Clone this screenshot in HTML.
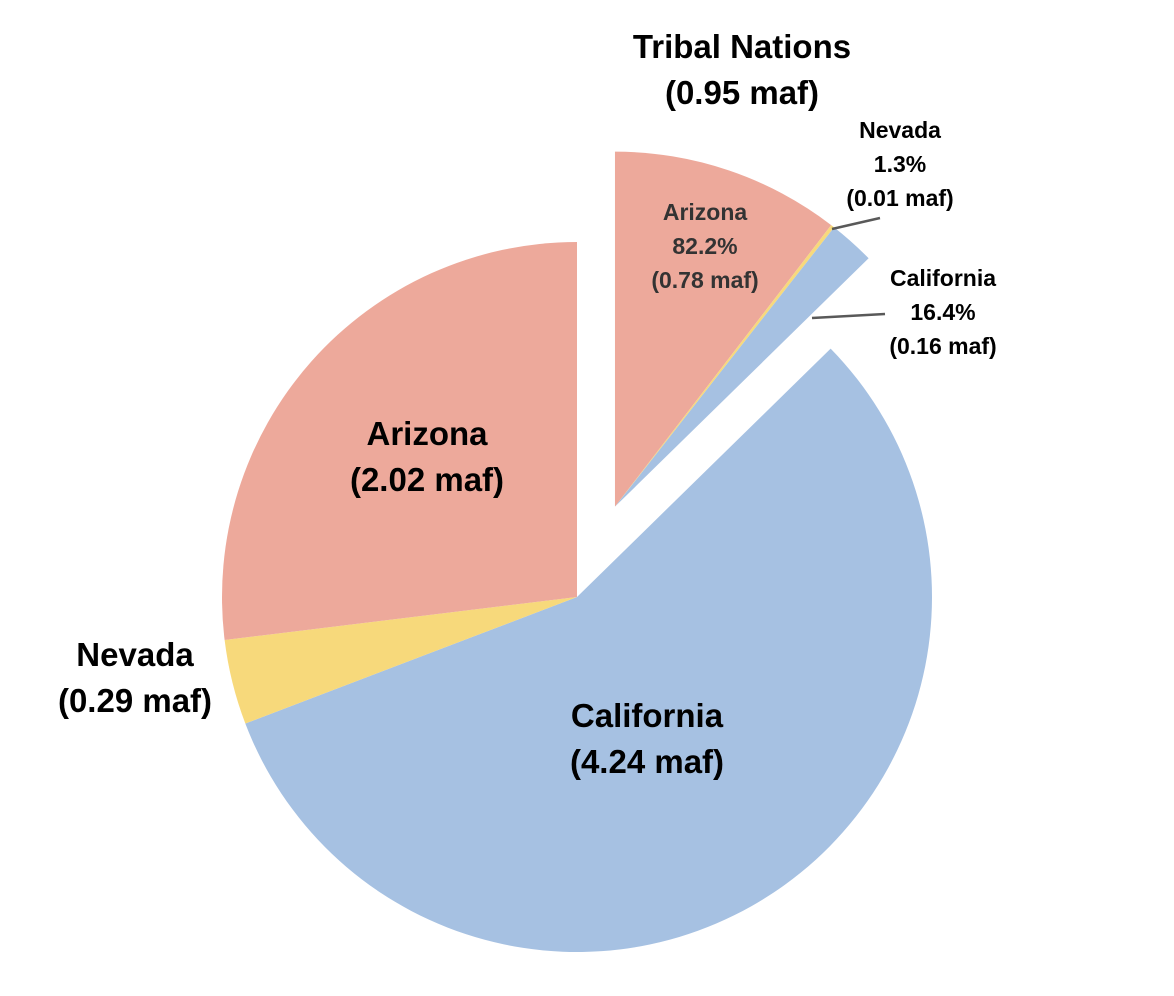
<!DOCTYPE html>
<html><head><meta charset="utf-8"><style>
html,body{margin:0;padding:0;background:#fff;}
svg{display:block;}
text{font-family:"Liberation Sans",Arial,sans-serif;font-weight:bold;fill:#000;text-anchor:middle;}
</style></head><body>
<svg id="chart" width="1174" height="996" viewBox="0 0 1174 996" xmlns="http://www.w3.org/2000/svg"></svg>
<script>
const categories = ["Tribal Nations", "California", "Nevada", "Arizona"];
const values = [0.95, 4.24, 0.29, 2.02];
const tribalCategories = ["Arizona", "Nevada", "California"];
const tribalShares = [82.2, 1.3, 16.4];
const tribalValues = [0.78, 0.01, 0.16];

const colors = {"Arizona":"#EDA99B","Nevada":"#F7D97B","California":"#A6C1E2"};
const svg = document.getElementById('chart');
const NS = "http://www.w3.org/2000/svg";
const cx = 577, cy = 597, R = 355, explode = 98;

function pt(x, y, r, a){ const rad = a*Math.PI/180; return [x + r*Math.sin(rad), y - r*Math.cos(rad)]; }
function wedge(x, y, r, a0, a1, fill, name){
  const p0 = pt(x,y,r,a0), p1 = pt(x,y,r,a1);
  const large = (a1-a0) > 180 ? 1 : 0;
  const p = document.createElementNS(NS,'path');
  p.setAttribute('d', `M${x},${y} L${p0[0]},${p0[1]} A${r},${r} 0 ${large} 1 ${p1[0]},${p1[1]} Z`);
  p.setAttribute('fill', fill);
  
  
  svg.appendChild(p);
}
function label(lines, x, y, size, lh, name, color){
  const t = document.createElementNS(NS,'text');
  t.setAttribute('font-size', size);
  if (color) t.setAttribute('style', 'fill:'+color);
  lines.forEach((l,i)=>{
    const s = document.createElementNS(NS,'tspan');
    s.setAttribute('x', x); s.setAttribute('y', y + i*lh);
    s.textContent = l; t.appendChild(s);
  });
  
  
  svg.appendChild(t);
}

const total = values.reduce((a,b)=>a+b,0);
let a = 0;
const angles = values.map(v => { const s = a; a += v/total*360; return [s, a]; });

// Main slices (skip tribal at index 0)
for (let i = 1; i < categories.length; i++){
  wedge(cx, cy, R, angles[i][0], angles[i][1], colors[categories[i]], 'slice-' + categories[i].toLowerCase());
}
// Exploded tribal slice
const [t0, t1] = angles[0];
const mid = (t0+t1)/2;
const [ex, ey] = pt(cx, cy, explode, mid);
const shareTotal = tribalShares.reduce((x,y)=>x+y,0);
let ta = t0;
tribalCategories.forEach((c,i)=>{
  const span = tribalShares[i]/shareTotal*(t1-t0);
  wedge(ex, ey, R, ta, ta+span, colors[c], 'tribal-slice-' + c.toLowerCase());
  ta += span;
});

// Main labels
label(["Arizona","(" + values[3].toFixed(2) + " maf)"], 427, 445, 33, 46, 'label-arizona');
label(["California","(" + values[1].toFixed(2) + " maf)"], 647, 727, 33, 46, 'label-california');
label(["Nevada","(" + values[2].toFixed(2) + " maf)"], 135, 666, 33, 46, 'label-nevada');
label(["Tribal Nations","(" + values[0].toFixed(2) + " maf)"], 742, 58, 33, 46, 'label-tribal-nations');
// Tribal breakdown labels
label(["Arizona", tribalShares[0].toFixed(1)+"%", "(" + tribalValues[0].toFixed(2) + " maf)"], 705, 220, 23, 34, 'label-tribal-arizona', '#333');
label(["Nevada", tribalShares[1].toFixed(1)+"%", "(" + tribalValues[1].toFixed(2) + " maf)"], 900, 138, 23, 34, 'label-tribal-nevada');
label(["California", tribalShares[2].toFixed(1)+"%", "(" + tribalValues[2].toFixed(2) + " maf)"], 943, 286, 23, 34, 'label-tribal-california');

// Leader lines
function line(x1,y1,x2,y2,name){
  const l = document.createElementNS(NS,'line');
  l.setAttribute('x1',x1);l.setAttribute('y1',y1);l.setAttribute('x2',x2);l.setAttribute('y2',y2);
  l.setAttribute('stroke','#595959');l.setAttribute('stroke-width','2.5');
  
  
  svg.appendChild(l);
}
line(832, 229, 880, 218, 'leader-line-nevada');
line(812, 318, 885, 314, 'leader-line-california');
</script>
</body></html>
